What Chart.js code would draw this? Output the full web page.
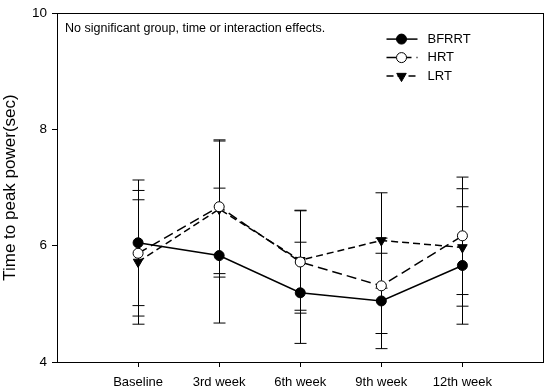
<!DOCTYPE html>
<html>
<head>
<meta charset="utf-8">
<script src="https://cdn.jsdelivr.net/npm/chart.js@4"></script>
<style>
  html, body { margin: 0; padding: 0; background: #fff; }
  #wrap { width: 550px; height: 390px; }
</style>
</head>
<body>
<div id="wrap"><canvas id="chart" width="550" height="390"></canvas></div>
<script>
// Data
const categories = ['Baseline', '3rd week', '6th week', '9th week', '12th week'];
const bfrrtMean = [6.05, 5.83, 5.19, 5.05, 5.66];
const bfrrtSd   = [1.08, 1.16, 0.87, 0.82, 1.01];
const hrtMean   = [5.87, 6.67, 5.72, 5.31, 6.17];
const hrtSd     = [1.08, 1.15, 0.88, 0.82, 1.01];
const lrtMean   = [5.72, 6.63, 5.75, 6.09, 5.97];
const lrtSd     = [1.07, 1.17, 0.86, 0.82, 1.01];
const yTicks = [4, 6, 8, 10];
const note = 'No significant group, time or interaction effects.';

const FONT = "'Liberation Sans', Arial, sans-serif";

function points(means) {
    return means.map((v, i) => ({ x: i + 1, y: v }));
}

// Error bars drawn from the scales
const errorBars = {
    id: 'errorBars',
    beforeDatasetsDraw(chart) {
        const ctx = chart.ctx;
        const xs = chart.scales.x, ys = chart.scales.y;
        ctx.save();
        ctx.strokeStyle = '#000';
        ctx.lineWidth = 1;
        chart.data.datasets.forEach(ds => {
            ds.data.forEach((p, i) => {
                const sd = ds.sd[i];
                const px = Math.round(xs.getPixelForValue(p.x)) + 0.5;
                const top = ys.getPixelForValue(p.y + sd);
                const bot = ys.getPixelForValue(p.y - sd);
                ctx.beginPath();
                ctx.moveTo(px, top);
                ctx.lineTo(px, bot);
                ctx.moveTo(px - 6, top);
                ctx.lineTo(px + 6, top);
                ctx.moveTo(px - 6, bot);
                ctx.lineTo(px + 6, bot);
                ctx.stroke();
            });
        });
        ctx.restore();
    }
};

// Frame, note text and legend
const extras = {
    id: 'extras',
    afterDraw(chart) {
        const ctx = chart.ctx;
        const a = chart.chartArea;
        ctx.save();
        ctx.strokeStyle = '#000';
        ctx.lineWidth = 1;
        ctx.strokeRect(Math.round(a.left) + 0.5, Math.round(a.top) + 0.5,
            Math.round(a.right - a.left) - 1, Math.round(a.bottom - a.top));

        ctx.fillStyle = '#000';
        ctx.font = '12.5px ' + FONT;
        ctx.textBaseline = 'middle';
        ctx.fillText(note, a.left + 8, a.top + 15);

        // legend
        ctx.font = '13px ' + FONT;
        const x0 = a.right - 157;
        chart.data.datasets.forEach((ds, i) => {
            const y = a.top + 26 + i * 18.5;
            ctx.save();
            ctx.lineWidth = ds.borderWidth;
            ctx.setLineDash(ds.borderDash || []);
            ctx.beginPath();
            ctx.moveTo(x0, y);
            ctx.lineTo(x0 + 31, y);
            ctx.stroke();
            ctx.restore();
            ctx.save();
            ctx.fillStyle = ds.pointBackgroundColor;
            ctx.strokeStyle = '#000';
            ctx.lineWidth = 1;
            Chart.helpers.drawPoint(ctx, {
                pointStyle: ds.pointStyle,
                rotation: ds.pointRotation || 0,
                radius: ds.pointRadius,
                borderWidth: 1
            }, x0 + 15, y);
            ctx.restore();
            ctx.fillStyle = '#000';
            ctx.fillText(ds.label, x0 + 41, y);
        });
        ctx.restore();
    }
};

new Chart(document.getElementById('chart').getContext('2d'), {
    type: 'line',
    data: {
        datasets: [
            {
                label: 'BFRRT',
                data: points(bfrrtMean),
                sd: bfrrtSd,
                borderColor: '#000',
                borderWidth: 1.5,
                pointStyle: 'circle',
                pointRadius: 5,
                pointBackgroundColor: '#000',
                pointBorderColor: '#000',
                pointBorderWidth: 1
            },
            {
                label: 'HRT',
                data: points(hrtMean),
                sd: hrtSd,
                borderColor: '#000',
                borderWidth: 1.5,
                borderDash: [10, 5],
                pointStyle: 'circle',
                pointRadius: 5,
                pointBackgroundColor: '#fff',
                pointBorderColor: '#000',
                pointBorderWidth: 1
            },
            {
                label: 'LRT',
                data: points(lrtMean),
                sd: lrtSd,
                borderColor: '#000',
                borderWidth: 1.5,
                borderDash: [7, 4],
                pointStyle: 'triangle',
                pointRotation: 180,
                pointRadius: 5.5,
                pointBackgroundColor: '#000',
                pointBorderColor: '#000',
                pointBorderWidth: 1
            }
        ]
    },
    options: {
        responsive: false,
        animation: false,
        layout: { padding: { top: 7, right: 4, left: 0, bottom: 0 } },
        plugins: {
            legend: { display: false },
            tooltip: { enabled: false }
        },
        scales: {
            x: {
                type: 'linear',
                min: 0,
                max: 6,
                afterBuildTicks(scale) {
                    scale.ticks = categories.map((c, i) => ({ value: i + 1 }));
                },
                afterFit(scale) { scale.height = 28; },
                ticks: {
                    callback: (v) => categories[v - 1],
                    color: '#000',
                    font: { family: FONT, size: 13 },
                    padding: 8,
                    maxRotation: 0,
                    autoSkip: false
                },
                grid: { drawOnChartArea: false, tickLength: 5, color: '#000' },
                border: { color: '#000', width: 1 }
            },
            y: {
                min: 4,
                max: 10,
                afterBuildTicks(scale) {
                    scale.ticks = yTicks.map(v => ({ value: v }));
                },
                afterFit(scale) { scale.width = 57; },
                ticks: {
                    color: '#000',
                    font: { family: FONT, size: 13.5 },
                    padding: 5
                },
                grid: { drawOnChartArea: false, tickLength: 5, color: '#000' },
                border: { color: '#000', width: 1 },
                title: {
                    display: true,
                    text: 'Time to peak power(sec)',
                    color: '#000',
                    font: { family: FONT, size: 17 },
                    padding: { top: 0, bottom: 0 }
                }
            }
        }
    },
    plugins: [errorBars, extras]
});
</script>
</body>
</html>
